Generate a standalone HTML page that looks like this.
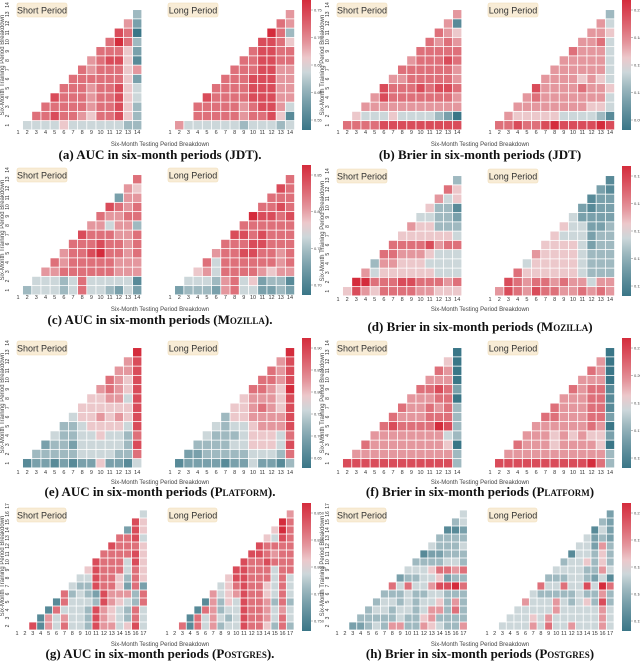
<!DOCTYPE html>
<html><head><meta charset="utf-8"><style>
html,body{margin:0;padding:0;background:#fff;}
svg{display:block;font-family:"Liberation Sans",sans-serif;}
.cap{font-family:"Liberation Serif",serif;font-weight:bold;font-size:13px;fill:#111;}
</style></head><body>
<svg id="fig" width="640" height="661" viewBox="0 0 640 661" xmlns="http://www.w3.org/2000/svg"></svg>
<script>
// level 0 (blue) .. 9 (red); rows top -> bottom, cells left -> right
const aShort=[[3],[6,2],[8,7,0],[7,9,7,3],[7,7,7,5,2],[6,7,8,8,5,1],[7,6,7,7,7,5,6],[7,7,7,7,7,7,5,2],[7,7,7,6,7,7,8,5,4],[8,7,7,7,6,7,7,8,5,4],[7,7,7,7,7,6,7,7,8,5,3],[7,7,8,7,7,6,5,7,7,8,5,3],[4,4,4,4,5,4,4,4,4,4,4,3,3]];
const aLong=[[6],[7,6],[9,7,3],[8,8,7,5],[7,8,8,7,7],[7,7,8,8,7,7],[7,7,7,8,8,6,6],[7,7,7,8,8,8,6,6],[7,7,7,7,8,8,8,6,6],[8,7,7,7,7,8,8,8,6,6],[7,7,7,7,7,6,7,8,8,6,4],[7,7,7,7,7,6,7,7,8,5,1],[6,4,4,4,4,4,4,3,4,4,4,3,4]];
const bShort=[[6],[6,1],[7,6,5],[7,6,7,6],[7,7,7,7,7],[6,7,7,7,8,7],[7,7,7,7,7,7,6],[6,6,7,7,7,7,7,6],[8,7,7,7,8,7,8,8,7],[6,8,7,7,7,7,7,7,7,6],[6,6,6,6,6,6,6,6,6,6,6],[5,4,4,4,5,4,4,4,4,3,2,0],[7,7,7,7,8,8,8,8,8,8,8,8,8]];
const bLong=[[3],[6,4],[6,6,5],[6,6,7,4],[7,6,6,6,4],[6,6,6,6,6,4],[6,6,6,6,6,6,4],[6,6,6,6,5,6,5,4],[8,6,6,6,6,7,6,6,5],[6,7,6,6,6,6,6,6,6,4],[6,6,6,6,6,6,6,6,5,5,4],[6,5,5,5,5,5,4,4,4,4,3,1],[7,7,8,7,7,8,9,8,8,8,8,9,8]];
const cShort=[[7],[6,5],[2,6,6],[8,7,6,7],[7,6,6,7,7],[6,6,4,6,6,3],[8,7,7,7,6,6,7],[7,7,7,8,7,7,6,7],[6,7,7,8,9,7,7,6,7],[7,6,7,7,7,7,7,6,6,6],[6,6,7,7,7,7,7,7,6,6,6],[4,4,4,3,4,7,4,4,4,4,4,1],[3,4,4,4,3,4,7,4,4,3,2,4,2]];
const cLong=[[7],[8,7],[7,7,7],[7,7,8,7],[9,8,8,7,8],[7,7,7,7,7,7],[8,8,7,8,7,7,7],[7,7,7,8,8,7,7,7],[6,7,7,8,8,7,7,6,7],[7,4,7,7,7,7,7,7,6,7],[5,6,4,7,7,7,7,6,5,6,6],[4,4,4,3,6,7,4,5,2,3,3,1],[2,3,3,3,2,6,7,4,4,2,2,3,2]];
const dShort=[[3],[7,5],[6,4,5],[5,3,3,1],[4,4,3,3,2],[6,5,5,3,3,3],[5,5,5,5,5,5,4],[7,7,7,7,8,6,7,7],[7,7,6,6,6,5,4,4,4],[3,6,6,5,5,5,4,4,4,4],[6,4,5,5,5,5,5,5,4,4,4],[9,9,7,7,7,8,8,7,7,7,6,7],[5,8,6,5,7,7,7,7,6,6,5,5,5]];
const dLong=[[1],[2,1],[1,2,2],[2,1,2,2],[4,2,2,2,2],[5,4,4,2,2,3],[5,4,4,4,2,3,3],[5,5,5,5,4,2,3,3],[6,5,5,5,5,4,3,3,3],[4,5,5,5,5,5,4,3,3,3],[7,5,5,5,5,5,5,4,3,3,3],[8,7,6,7,7,6,7,6,6,4,6,6],[6,8,7,6,8,7,7,6,6,7,6,7,6]];
const eShort=[[9],[6,8],[6,6,8],[7,6,5,8],[6,7,6,5,8],[5,5,6,6,4,8],[5,5,5,5,5,5,8],[4,5,5,6,5,6,5,8],[3,3,4,5,5,5,5,4,8],[4,3,3,4,4,5,4,4,3,7],[2,3,3,2,4,4,4,4,4,3,8],[3,3,3,3,3,4,4,4,4,3,3,7],[1,2,2,1,2,1,2,2,5,2,2,1,4]];
const eLong=[[9],[6,8],[7,6,8],[7,7,6,8],[7,7,6,5,9],[5,6,6,6,5,8],[5,5,6,7,6,5,8],[3,5,5,6,6,6,6,8],[4,3,4,4,5,6,6,6,8],[4,3,3,3,4,5,5,5,4,7],[3,3,3,3,4,4,5,5,5,4,8],[2,2,3,3,3,3,3,4,4,4,3,7],[1,2,2,2,2,1,2,2,4,2,2,1,3]];
const fShort=[[0],[5,0],[7,6,0],[6,6,6,0],[7,7,8,7,2],[6,6,6,7,7,0],[7,6,6,7,6,7,3],[7,6,6,6,7,7,7,3],[7,8,7,7,7,7,9,8,3],[6,6,6,6,6,6,6,6,4,3],[7,6,6,6,6,6,6,6,6,5,0],[6,6,6,6,6,6,6,6,6,6,6,3],[8,8,8,8,8,8,8,8,8,8,8,8,3]];
const fLong=[[0],[6,0],[7,6,0],[6,6,6,0],[7,6,7,7,1],[6,6,6,7,7,1],[7,6,6,6,7,7,1],[7,7,6,6,6,7,7,2],[6,6,6,6,6,6,7,6,0],[6,6,6,5,6,5,6,5,5,2],[7,6,6,6,5,6,6,6,6,5,0],[6,6,6,6,6,6,6,6,6,6,6,3],[8,8,8,8,8,8,8,8,8,8,9,7,3]];
const gShort=[[4],[8,5],[2,8,5],[7,7,8,4],[8,7,7,7,5],[7,7,7,7,8,5],[8,7,7,7,4,8,5],[5,8,7,7,7,4,7,5],[4,4,8,7,7,5,3,7,5],[4,3,3,8,7,7,5,2,7,2],[7,3,4,3,2,8,6,6,6,3,7],[1,7,4,4,4,3,8,6,5,4,3,7],[1,7,4,4,4,3,8,6,5,4,3,7,4],[1,6,4,6,4,4,3,8,6,5,4,3,7,4],[8,1,6,4,7,4,4,3,8,6,6,4,5,8,4]];
const gLong=[[6],[9,7],[5,9,7],[5,4,8,7],[8,7,7,7,7],[8,8,7,6,7,7],[8,7,7,8,7,7,7],[8,8,7,7,7,4,7,7],[5,8,8,7,7,7,4,7,4],[4,5,7,8,7,7,5,4,7,4],[6,4,5,6,8,7,7,5,4,7,4],[1,6,3,5,4,8,7,7,6,3,7,3],[1,7,6,3,4,4,8,7,7,6,4,6,4],[1,7,4,6,4,3,4,8,7,7,6,4,7,4],[7,1,7,4,6,3,4,4,8,7,7,5,3,7,3]];
const hShort=[[4],[3,4],[1,1,2],[3,3,3,3],[4,3,3,3,4],[1,2,2,3,3,3],[3,3,3,3,4,4,3],[4,4,4,5,7,7,6,7],[2,3,3,4,4,5,2,3,3],[7,4,7,4,4,6,8,8,9,7],[3,3,3,4,3,3,4,4,3,3,3],[3,4,4,3,4,3,4,4,5,3,6,3],[3,4,4,3,4,4,3,4,6,6,3,7,3],[3,3,3,3,3,4,3,3,5,6,3,3,3,3],[2,2,3,4,3,6,6,3,3,6,5,4,3,3,6]];
const hLong=[[2],[3,2],[1,4,2],[4,2,3,2],[4,4,2,6,3],[1,4,4,3,5,3],[3,4,4,5,3,5,3],[4,4,4,4,3,3,6,4],[3,3,3,4,4,3,2,4,1],[7,4,4,7,4,4,8,4,9,7],[4,3,3,3,3,3,4,3,3,6,3],[6,4,4,4,6,4,3,4,5,3,8,3],[4,4,4,4,4,6,4,4,4,4,4,6,4],[4,4,4,5,4,6,4,4,4,4,4,4,6,4],[4,4,4,4,6,4,7,4,4,6,4,4,4,6,4]];
const cbA=["0.75","0.70","0.65","0.60","0.55"];
const cbB=["0.21","0.18","0.15","0.12","0.09"];
const cbC=["0.85","0.80","0.75","0.70"];
const cbD=["0.130","0.125","0.120","0.115","0.110"];
const cbE=["0.90","0.85","0.80","0.75","0.70","0.65"];
const cbF=["0.215","0.200","0.185","0.170","0.155"];
const cbG=["0.850","0.825","0.800","0.775","0.750"];
const cbH=["0.210","0.195","0.180","0.165","0.150"];
const captions=[
 ["(a) AUC in six-month periods (","JDT",")."],
 ["(b) Brier in six-month periods (","JDT",")"],
 ["(c) AUC in six-month periods (","Mozilla",")."],
 ["(d) Brier in six-month periods (","Mozilla",")"],
 ["(e) AUC in six-month periods (","Platform",")."],
 ["(f) Brier in six-month periods (","Platform",")"],
 ["(g) AUC in six-month periods (","Postgres",")."],
 ["(h) Brier in six-month periods (","Postgres",")"]];

const NS="http://www.w3.org/2000/svg";
const svg=document.getElementById('fig');
function mk(tag,attrs,parent){const e=document.createElementNS(NS,tag);for(const k in attrs)e.setAttribute(k,attrs[k]);(parent||svg).appendChild(e);return e;}
const BLUE=[58,118,135],WHITE=[242,240,240],RED=[212,44,60];
function color(v){const t=v/9;let a,b,u;if(t<0.5){a=WHITE;b=BLUE;u=(0.5-t)/0.5;}else{a=WHITE;b=RED;u=(t-0.5)/0.5;}
 u=Math.pow(u,0.72);
 return 'rgb('+a.map((x,i)=>Math.round(x+(b[i]-x)*u)).join(',')+')';}

const panels=[
 {key:'a',ox:0,oy:0,n:14,s:aShort,l:aLong,cb:cbA,cap:155,xt:132,xtl:144},
 {key:'b',ox:320,oy:0,n:14,s:bShort,l:bLong,cb:cbB,cap:155,xt:132,xtl:144},
 {key:'c',ox:0,oy:165,n:14,s:cShort,l:cLong,cb:cbC,cap:320,xt:297,xtl:309},
 {key:'d',ox:320,oy:166,n:14,s:dShort,l:dLong,cb:cbD,cap:327,xt:299,xtl:309},
 {key:'e',ox:0,oy:338,n:14,s:eShort,l:eLong,cb:cbE,cap:492,xt:472,xtl:482},
 {key:'f',ox:320,oy:338,n:14,s:fShort,l:fLong,cb:cbF,cap:492,xt:472,xtl:482},
 {key:'g',ox:0,oy:502,n:17,s:gShort,l:gLong,cb:cbG,cap:654,xt:633,xtl:644},
 {key:'h',ox:320,oy:502,n:17,s:hShort,l:hLong,cb:cbH,cap:654,xt:633,xtl:644}];

panels.forEach((p,pi)=>{
 const g=mk('g',{});
 
 
 const big=p.n===17;
 const rh=big?8.0:9.25;
 const rTop=big?p.oy+4:p.oy+5;
 const rMin=big?2:1;
 const halves=[{d:p.s,x1:p.ox+(big?17:18),sx:big?7.9:9.17,name:'short'},{d:p.l,x1:p.ox+(big?167:170),sx:big?7.7:9.23,name:'long'}];
 halves.forEach(h=>{
  const hg=mk('g',{},g);
  
  
  const X=c=>h.x1+(c-1)*h.sx;
  const Y=r=>rTop+(p.n-r)*rh;
  h.d.forEach((row,ri)=>{
   const r=p.n-1-ri;
   row.forEach((v,ci)=>{
    const c=p.n-row.length+1+ci;
    const rc=mk('rect',{x:X(c)-h.sx/2+0.4,y:Y(r)-rh/2+0.4,width:h.sx-0.8,height:rh-0.8,fill:color(v)},hg);
    
    
   });
  });
  for(let c=1;c<=p.n;c++){
   const t=mk('text',{x:X(c),y:p.xt+2,'font-size':5.5,fill:'#333','text-anchor':'middle'},hg);
   t.textContent=c;
   
   
  }
  const bx=h.name==='short'?p.ox+17:p.ox+168;
  const by=big?p.oy+6:p.oy+3;
  const lb=mk('rect',{x:bx,y:by,width:big?49:50,height:14,rx:2,fill:'#f8ecd6',stroke:'#efdcb8','stroke-width':0.6},hg);
  
  
  const lt=mk('text',{x:bx+25,y:by+10.3,'font-size':9,fill:'#333','text-anchor':'middle'},hg);
  lt.textContent=h.name==='short'?'Short Period':'Long Period';
  
  
 });
 for(let r=rMin;r<=p.n;r++){
  const y=rTop+(p.n-r)*rh;
  const t=mk('text',{x:p.ox+9,y:y,'font-size':5,fill:'#333','text-anchor':'middle',transform:'rotate(-90 '+(p.ox+9)+' '+y+')'},g);
  t.textContent=r;
  
  
 }
 const ymid=rTop+(p.n-rMin)*rh/2;
 const yt=mk('text',{x:p.ox+4,y:ymid,'font-size':6,fill:'#444','text-anchor':'middle',transform:'rotate(-90 '+(p.ox+4)+' '+ymid+')'},g);
 yt.textContent='Six-Month Training Period Breakdown';
 
 
 const xt=mk('text',{x:p.ox+160,y:p.xtl+2,'font-size':6,fill:'#444','text-anchor':'middle'},g);
 xt.textContent='Six-Month Testing Period Breakdown';
 
 
 const gid='cbg'+p.key;
 const defs=mk('defs',{},g);
 const lg=mk('linearGradient',{id:gid,x1:0,y1:0,x2:0,y2:1},defs);
 for(let k=0;k<=9;k++) mk('stop',{offset:String(k/9),"stop-color":color(9-k)},lg);
 const cbTop=big?p.oy+1:p.oy;
 const cbH=big?128:130;
 const cb=mk('rect',{x:p.ox+302,y:cbTop,width:9,height:cbH,fill:'url(#'+gid+')'},g);
 
 
 p.cb.forEach((lab,i)=>{
  const y=cbTop+10+i*(cbH-20)/(p.cb.length-1);
  mk('line',{x1:p.ox+311,x2:p.ox+313,y1:y,y2:y,stroke:'#555','stroke-width':0.4},g);
  const t=mk('text',{x:p.ox+314,y:y+1.5,'font-size':4,fill:'#444'},g);
  t.textContent=lab;
  
  
 });
 const cp=captions[pi];
 const ct=mk('text',{x:p.ox+160,y:p.cap+4,'text-anchor':'middle',class:'cap'},g);
 
 
 const s1=mk('tspan',{},ct);s1.textContent=cp[0];
 const s2=mk('tspan',{'font-variant':'small-caps'},ct);s2.textContent=cp[1];
 const s3=mk('tspan',{},ct);s3.textContent=cp[2];
});
</script>
</body></html>
